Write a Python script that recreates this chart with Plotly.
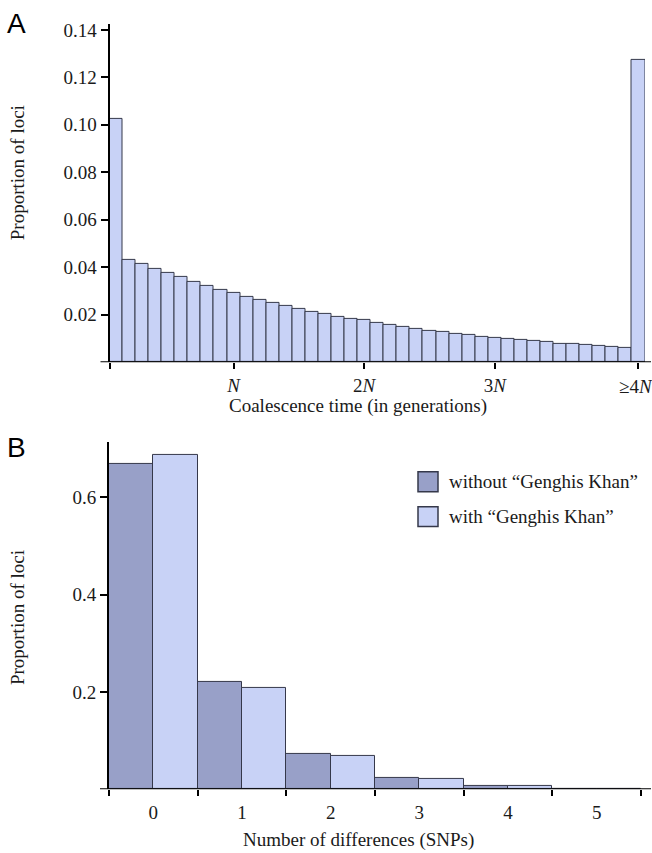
import plotly.graph_objects as go

# ---------------- data ----------------
# Panel A: proportion of loci per coalescence-time bin (41 bins; last bin is >=4N)
coal_props = [0.1027, 0.0432, 0.0414, 0.0393, 0.0375, 0.0358, 0.0340, 0.0320, 0.0305,
              0.0291, 0.0276, 0.0263, 0.0249, 0.0236, 0.0226, 0.0213, 0.0203, 0.0192,
              0.0184, 0.0177, 0.0166, 0.0158, 0.0149, 0.0142, 0.0134, 0.0127, 0.0119,
              0.0114, 0.0108, 0.0103, 0.0099, 0.0094, 0.0089, 0.0085, 0.0079, 0.0076,
              0.0072, 0.0069, 0.0066, 0.0062, 0.1273]
coal_tick_bins = [9, 19, 29, 40]
coal_tick_text = ["<i>N</i>", "2<i>N</i>", "3<i>N</i>", "≥4<i>N</i>"]
a_yticks = [0.02, 0.04, 0.06, 0.08, 0.10, 0.12, 0.14]
a_yticktext = ["0.02", "0.04", "0.06", "0.08", "0.10", "0.12", "0.14"]

# Panel B: number of differences (SNPs)
snp_categories = [0, 1, 2, 3, 4, 5]
without_gk = [0.669, 0.221, 0.0726, 0.0232, 0.0062, 0.0012]
with_gk = [0.687, 0.209, 0.0685, 0.0212, 0.0060, 0.0011]
series_names = ["without “Genghis Khan”", "with “Genghis Khan”"]
b_yticks = [0.2, 0.4, 0.6]
b_yticktext = ["0.2", "0.4", "0.6"]

# ---------------- style ----------------
W, H = 652, 853
SERIF = "Liberation Serif, Times New Roman, serif"
SANS = "Liberation Sans, Arial, sans-serif"
FS = 19
LIGHT = "rgb(200,210,246)"
DARK = "rgb(152,160,200)"
EDGE = "#35384a"
TXT = "#1a1a1a"


def px(x):
    return x / W


def py(y):
    return 1 - y / H


fig = go.Figure()

fig.add_trace(go.Bar(
    x=list(range(len(coal_props))), y=coal_props, width=1,
    marker=dict(color=LIGHT, line=dict(color=EDGE, width=1)),
    xaxis="x", yaxis="y", showlegend=False, hoverinfo="y"))

fig.add_trace(go.Bar(
    x=snp_categories, y=without_gk, name=series_names[0],
    marker=dict(color=DARK, line=dict(color=EDGE, width=1)),
    xaxis="x2", yaxis="y2", showlegend=False, offsetgroup="a"))
fig.add_trace(go.Bar(
    x=snp_categories, y=with_gk, name=series_names[1],
    marker=dict(color=LIGHT, line=dict(color=EDGE, width=1)),
    xaxis="x2", yaxis="y2", showlegend=False, offsetgroup="b"))

# plot-area pixel geometry
A_L, A_R, A_T, A_B = 109.5, 645, 20, 360
B_L, B_R, B_T, B_B = 109, 641, 440, 789

tickfont = dict(family=SERIF, size=FS, color=TXT)
axis_common = dict(showgrid=False, zeroline=False, ticks="outside", tickwidth=2,
                   tickcolor="black", tickfont=tickfont, fixedrange=True)

n = len(coal_props)
# the last label sits at the page edge; draw it as an annotation anchored to its bin
a_ticktext_axis = coal_tick_text[:-1] + [""]

fig.update_layout(
    width=W, height=H,
    margin=dict(l=0, r=0, t=0, b=0),
    paper_bgcolor="white", plot_bgcolor="white",
    barmode="group", bargap=0, bargroupgap=0,
    font=dict(family=SERIF, size=FS, color=TXT),
    xaxis=dict(domain=[px(A_L), px(A_R)], anchor="y", range=[-0.5, n - 0.5],
               tickvals=coal_tick_bins, ticktext=a_ticktext_axis, ticklen=6,
               showline=False,
               minor=dict(tickvals=[-0.5], ticks="outside", ticklen=6, tickwidth=2,
                          tickcolor="black", showgrid=False),
               **axis_common),
    yaxis=dict(domain=[py(A_B), py(A_T)], anchor="x", range=[0, 0.1425],
               tickvals=a_yticks, ticktext=a_yticktext, ticklen=7,
               showline=True, linewidth=2, linecolor="black", **axis_common),
    xaxis2=dict(domain=[px(B_L), px(B_R)], anchor="y2", range=[-0.5, len(snp_categories) - 0.5],
                tickvals=snp_categories, ticktext=[str(c) for c in snp_categories],
                ticklen=6, showline=False,
                minor=dict(tickvals=[c - 0.5 for c in snp_categories] + [snp_categories[-1] + 0.5],
                           ticks="outside", ticklen=6, tickwidth=2, tickcolor="black",
                           showgrid=False),
                **{**axis_common, "tickcolor": "rgba(0,0,0,0)"}),
    yaxis2=dict(domain=[py(B_B), py(B_T)], anchor="x2", range=[0, 0.714],
                tickvals=b_yticks, ticktext=b_yticktext, ticklen=7,
                showline=True, linewidth=2, linecolor="black", **axis_common),
)

# x-axis baselines extending a little beyond the plot areas
fig.add_shape(type="line", xref="x domain", yref="y",
              x0=-9 / (A_R - A_L), x1=1 + 6 / (A_R - A_L), y0=0, y1=0,
              line=dict(color="black", width=2), layer="above")
fig.add_shape(type="line", xref="x2 domain", yref="y2",
              x0=-9 / (B_R - B_L), x1=1 + 10 / (B_R - B_L), y0=0, y1=0,
              line=dict(color="black", width=2), layer="above")

ann = []
# last tick label of panel A
ann.append(dict(text=coal_tick_text[-1], x=coal_tick_bins[-1], y=0, xref="x", yref="y",
                showarrow=False, font=tickfont, xanchor="center", yanchor="middle",
                xshift=-2, yshift=-24))
# panel letters
ann.append(dict(text="A", x=px(16), y=py(20), xref="paper", yref="paper", showarrow=False,
                font=dict(family=SANS, size=28, color="black"), xanchor="center", yanchor="middle"))
ann.append(dict(text="B", x=px(16), y=py(446), xref="paper", yref="paper", showarrow=False,
                font=dict(family=SANS, size=28, color="black"), xanchor="center", yanchor="middle"))
# axis titles
ann.append(dict(text="Proportion of loci", x=px(17), y=py(170), xref="paper", yref="paper",
                textangle=-90, showarrow=False, font=dict(family=SERIF, size=FS, color=TXT),
                xanchor="center", yanchor="middle"))
ann.append(dict(text="Proportion of loci", x=px(17), y=py(617), xref="paper", yref="paper",
                textangle=-90, showarrow=False, font=dict(family=SERIF, size=FS, color=TXT),
                xanchor="center", yanchor="middle"))
ann.append(dict(text="Coalescence time (in generations)", x=px(358), y=py(404), xref="paper",
                yref="paper", showarrow=False, font=dict(family=SERIF, size=FS, color=TXT),
                xanchor="center", yanchor="middle"))
ann.append(dict(text="Number of differences (SNPs)", x=px(358), y=py(840), xref="paper",
                yref="paper", showarrow=False, font=dict(family=SERIF, size=FS, color=TXT),
                xanchor="center", yanchor="middle"))

# legend (swatches + labels)
legend_colors = [DARK, LIGHT]
for i, (name, col) in enumerate(zip(series_names, legend_colors)):
    yc = 480 + 35 * i
    fig.add_shape(type="rect", xref="paper", yref="paper",
                  x0=px(418), x1=px(438), y0=py(yc - 10), y1=py(yc + 10),
                  fillcolor=col, line=dict(color=EDGE, width=1.5))
    ann.append(dict(text=name, x=px(447), y=py(yc), xref="paper", yref="paper",
                    showarrow=False, font=dict(family=SERIF, size=FS, color=TXT),
                    xanchor="left", yanchor="middle"))

fig.update_layout(annotations=ann)

fig.write_html("out.html")
